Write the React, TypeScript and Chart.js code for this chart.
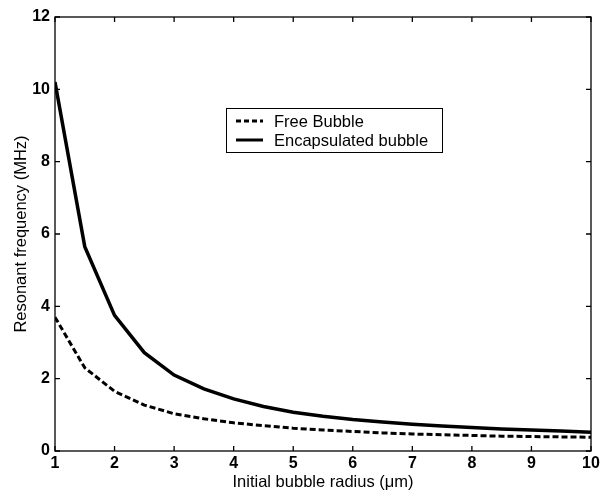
import React, { useEffect, useRef } from 'react';
import { Chart, registerables } from 'chart.js';

Chart.register(...registerables);

const radii = [1, 1.5, 2, 2.5, 3, 3.5, 4, 4.5, 5, 5.5, 6, 6.5, 7, 7.5, 8, 8.5, 9, 9.5, 10];
const freeBubble = [3.7, 2.3, 1.65, 1.27, 1.03, 0.89, 0.78, 0.7, 0.63, 0.58, 0.54, 0.5, 0.47, 0.45, 0.43, 0.41, 0.4, 0.39, 0.38];
const encapsulated = [10.2, 5.65, 3.75, 2.72, 2.1, 1.72, 1.44, 1.23, 1.07, 0.96, 0.87, 0.8, 0.74, 0.69, 0.65, 0.61, 0.58, 0.55, 0.52];
const seriesLabels = ['Free Bubble', 'Encapsulated bubble'];
const xTicks = [1, 2, 3, 4, 5, 6, 7, 8, 9, 10];
const yTicks = [0, 2, 4, 6, 8, 10, 12];
const xTitle = 'Initial bubble radius (\u03bcm)';
const yTitle = 'Resonant frequency (MHz)';

const FONT = "'Liberation Sans', Arial, sans-serif";

const framePlugin = {
  id: 'frameTicks',
  afterDraw(chart: any) {
    const { ctx, chartArea } = chart;
    const { left, right, top, bottom } = chartArea;
    const xs = chart.scales.x;
    const ys = chart.scales.y;
    ctx.save();
    ctx.strokeStyle = '#000';
    ctx.lineWidth = 1.3;
    ctx.strokeRect(left, top, right - left, bottom - top);
    const L = 5;
    ctx.beginPath();
    xTicks.forEach((v) => {
      const px = xs.getPixelForValue(v);
      ctx.moveTo(px, bottom);
      ctx.lineTo(px, bottom - L);
      ctx.moveTo(px, top);
      ctx.lineTo(px, top + L);
    });
    yTicks.forEach((v) => {
      const py = ys.getPixelForValue(v);
      ctx.moveTo(left, py);
      ctx.lineTo(left + L, py);
      ctx.moveTo(right, py);
      ctx.lineTo(right - L, py);
    });
    ctx.stroke();

    // legend box
    const bx = 226, by = 108, bw = 216, bh = 44;
    ctx.fillStyle = '#fff';
    ctx.fillRect(bx, by, bw, bh);
    ctx.lineWidth = 1;
    ctx.strokeRect(bx + 0.5, by + 0.5, bw, bh);
    const rows = [by + 13, by + 32];
    const dashes = [[5, 3], []];
    ctx.font = `16.5px ${FONT}`;
    ctx.textBaseline = 'middle';
    rows.forEach((ry, i) => {
      ctx.beginPath();
      ctx.setLineDash(dashes[i]);
      ctx.lineWidth = 3;
      ctx.moveTo(bx + 10, ry);
      ctx.lineTo(bx + 37, ry);
      ctx.stroke();
      ctx.setLineDash([]);
      ctx.fillStyle = '#000';
      ctx.fillText(seriesLabels[i], bx + 48, ry + 1);
    });
    ctx.restore();
  },
};

export default function App() {
  const ref = useRef<HTMLCanvasElement>(null);
  useEffect(() => {
    if (!ref.current) return;
    const chart = new Chart(ref.current, {
      type: 'line',
      data: {
        datasets: [
          {
            label: seriesLabels[0],
            data: radii.map((r, i) => ({ x: r, y: freeBubble[i] })),
            borderColor: '#000',
            borderWidth: 3,
            borderDash: [6, 3],
            pointRadius: 0,
            tension: 0,
            fill: false,
          },
          {
            label: seriesLabels[1],
            data: radii.map((r, i) => ({ x: r, y: encapsulated[i] })),
            borderColor: '#000',
            borderWidth: 3.5,
            pointRadius: 0,
            tension: 0,
            fill: false,
          },
        ],
      },
      options: {
        animation: false,
        responsive: false,
        maintainAspectRatio: false,
        layout: { padding: { top: 17, right: 18, left: 0, bottom: 0 } },
        plugins: { legend: { display: false }, tooltip: { enabled: false } },
        scales: {
          x: {
            type: 'linear',
            min: 1,
            max: 10,
            afterBuildTicks: (s: any) => { s.ticks = xTicks.map((v) => ({ value: v })); },
            afterFit: (s: any) => { s.height = 41; },
            grid: { display: false, drawTicks: false },
            border: { display: false },
            ticks: { color: '#000', font: { family: FONT, size: 16, weight: 'bold' }, padding: 3, maxRotation: 0 },
            title: { display: true, text: xTitle, color: '#000', font: { family: FONT, size: 16.5 }, padding: { top: 0, bottom: 0 } },
          },
          y: {
            type: 'linear',
            min: 0,
            max: 12,
            afterBuildTicks: (s: any) => { s.ticks = yTicks.map((v) => ({ value: v })); },
            afterFit: (s: any) => { s.width = 55; },
            grid: { display: false, drawTicks: false },
            border: { display: false },
            ticks: { color: '#000', font: { family: FONT, size: 16, weight: 'bold' }, padding: 5 },
            title: { display: true, text: yTitle, color: '#000', font: { family: FONT, size: 16.5 }, padding: { top: 12, bottom: 0 } },
          },
        },
      },
      plugins: [framePlugin],
    });
    return () => chart.destroy();
  }, []);
  return (
    <div style={{ position: 'fixed', left: 0, top: 0, width: 609, height: 492, background: '#fff' }}>
      <canvas ref={ref} width={609} height={492} style={{ width: 609, height: 492 }} />
    </div>
  );
}
